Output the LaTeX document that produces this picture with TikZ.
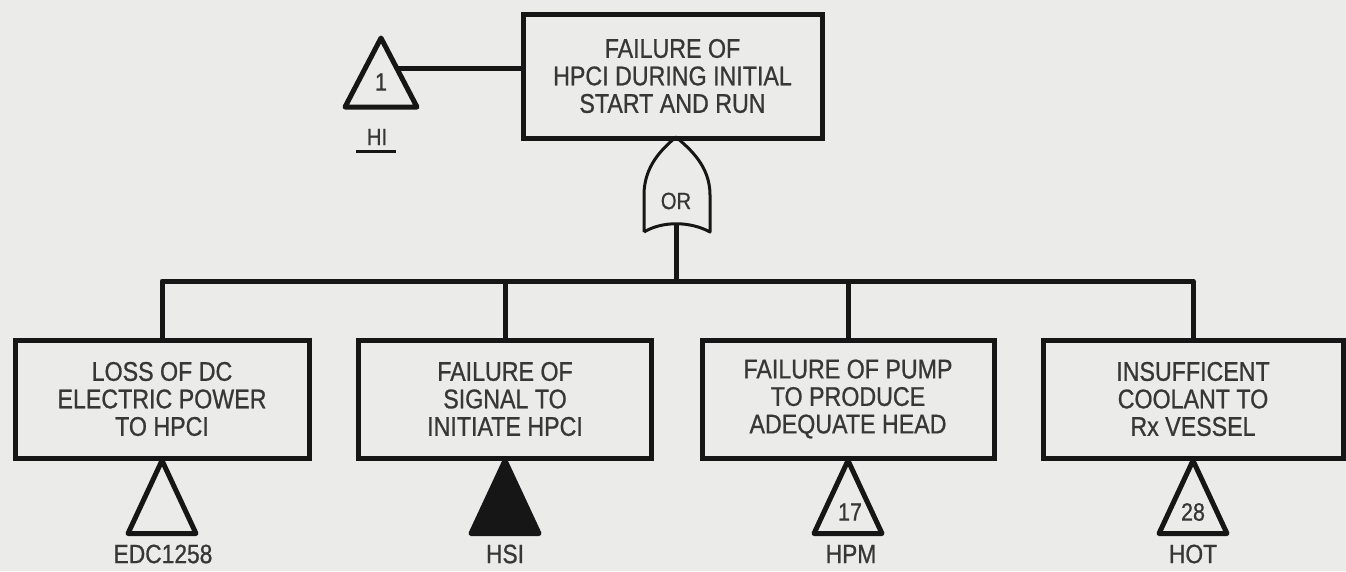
\documentclass[tikz,border=0pt]{standalone}
\usepackage{fontspec}
\setmainfont[FakeStretch=0.86,FakeBold=0.8]{Liberation Sans}
\definecolor{paper}{RGB}{235,235,233}
\definecolor{ink}{RGB}{22,22,22}
\definecolor{txt}{RGB}{55,55,55}
\begin{document}
\begin{tikzpicture}[x=1pt,y=-1pt,
  event/.style={draw=ink, line width=5pt, align=center, text=txt,
    font=\fontsize{27}{27.5}\selectfont, inner sep=0pt},
  wire/.style={draw=ink, line width=5pt, line join=round},
  tri/.style={draw=ink, line width=5pt, line join=round},
  trifill/.style={draw=ink, fill=ink, line width=5pt, line join=round},
  gateline/.style={draw=ink, line width=3pt, line join=round},
  lbl/.style={text=txt, font=\fontsize{26.5}{27.5}\selectfont, inner sep=0pt},
  num/.style={text=txt, font=\fontsize{25}{26}\selectfont, inner sep=0pt}]
\fill[paper] (0,0) rectangle (1346,571);
\useasboundingbox (0,0) rectangle (1346,571);

% top event
\node[event, minimum width=299pt, minimum height=124pt] (top) at (672.5,76)
  {FAILURE OF\\HPCI DURING INITIAL\\START AND RUN};

% transfer triangle 1 with its label
\coordinate (t1) at (381,38);
\draw[tri] (t1) -- ++(36,69) -- ++(-72,0) -- cycle;
\node[num] (n1) at (381,82) {1};
\coordinate (t1r) at (398,68);
\draw[wire] (t1r) -- (top.west |- t1r);
\node[lbl, font=\fontsize{23.5}{25}\selectfont] (hi) at (377,137) {HI};
\draw[ink, line width=3.5pt] ([xshift=-21pt,yshift=-6pt]hi.south) -- ([xshift=19pt,yshift=-6pt]hi.south);

% OR gate
\coordinate (gapex) at (676,137);
\coordinate (gout) at (676,224);
\draw[gateline] (644,232) -- (644,195)
  .. controls (644,166) and (662,149) .. (gapex)
  .. controls (690,149) and (710,166) .. (710,195)
  -- (710,232)
  .. controls (690,221) and (662,221) .. (644,232);
\node[lbl, font=\fontsize{23.5}{25}\selectfont] (or) at (676,201) {OR};

% basic events
\node[event, minimum width=294pt, minimum height=118pt] (e1) at (162,399)
  {LOSS OF DC\\ELECTRIC POWER\\TO HPCI};
\node[event, minimum width=293pt, minimum height=118pt] (e2) at (505,399)
  {FAILURE OF\\SIGNAL TO\\INITIATE HPCI};
\node[event, minimum width=292pt, minimum height=118pt] (e3) at (848,399)
  {FAILURE OF PUMP\\TO PRODUCE\\ADEQUATE HEAD};
\node[event, minimum width=300pt, minimum height=118pt] (e4) at (1193,399)
  {INSUFFICENT\\COOLANT TO\\Rx VESSEL};

% bus from the gate to the four events
\coordinate (bus) at (676,281);
\draw[wire] (gout) -- (bus);
\draw[wire] (e1.north) -- (e1.north |- bus) -- (e4.north |- bus) -- (e4.north);
\draw[wire] (e2.north) -- (e2.north |- bus);
\draw[wire] (e3.north) -- (e3.north |- bus);

% triangles below the events
\draw[tri] (e1.south) -- ++(34,73) -- ++(-68,0) -- cycle;
\draw[trifill] (e2.south) -- ++(34,73) -- ++(-68,0) -- cycle;
\draw[tri] (e3.south) -- ++(34,73) -- ++(-68,0) -- cycle;
\draw[tri] (e4.south) -- ++(34,73) -- ++(-68,0) -- cycle;
\node[num] (n17) at (850,512) {17};
\node[num] (n28) at (1193,512) {28};

\node[lbl] (l1) at (163,554) {EDC1258};
\node[lbl] (l2) at (505,554) {HSI};
\node[lbl] (l3) at (851,554) {HPM};
\node[lbl] (l4) at (1193,554) {HOT};
\end{tikzpicture}
\end{document}
